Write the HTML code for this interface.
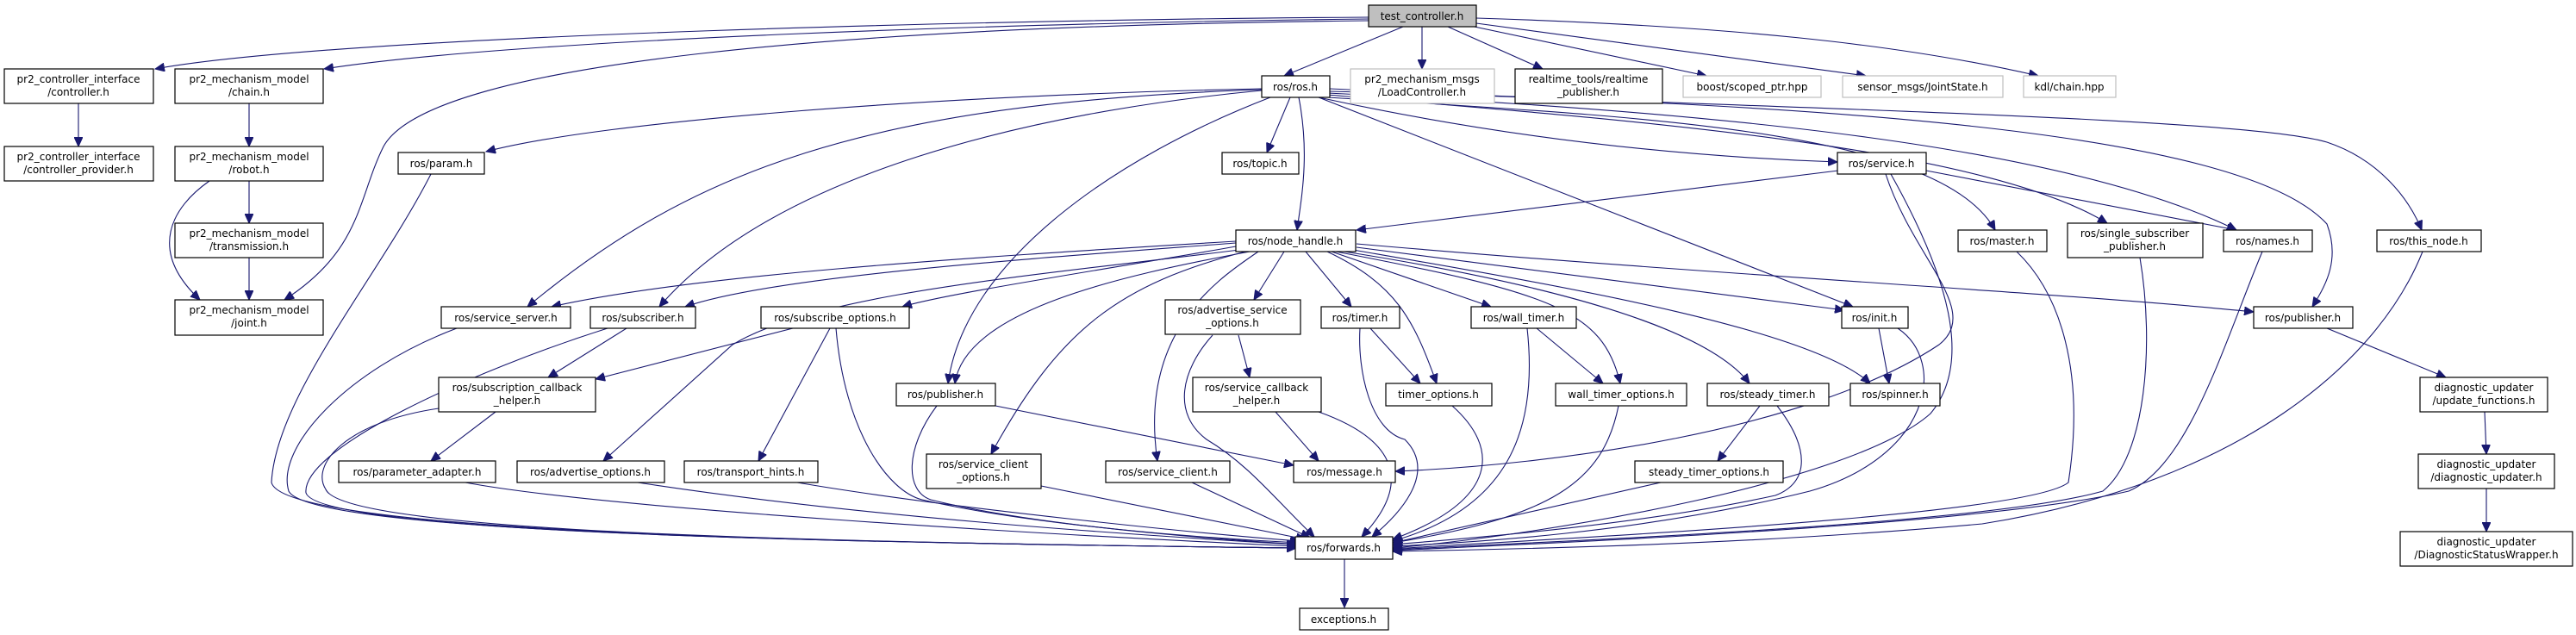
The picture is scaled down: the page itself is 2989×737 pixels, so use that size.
<!DOCTYPE html>
<html><head><meta charset="utf-8"><style>
html,body{margin:0;padding:0;background:#fff;}
svg{display:block;}
text{font-family:"DejaVu Sans","Liberation Sans",sans-serif;font-size:12px;fill:#000;text-anchor:middle;}
.n{fill:#fff;stroke:#000;stroke-width:1.2;}
.g{fill:#fff;stroke:#bfbfbf;stroke-width:1.2;}
.e path{fill:none;stroke:#191970;stroke-width:1.1;marker-end:url(#a);}
</style></head><body>
<svg width="2989" height="737" viewBox="0 0 2989 737" xmlns="http://www.w3.org/2000/svg">
<defs><marker id="a" markerUnits="userSpaceOnUse" markerWidth="12" markerHeight="10" refX="11" refY="5" orient="auto"><path d="M0,0 L11,5 L0,10 z" fill="#191970" stroke="#191970"/></marker></defs>
<g class="e">
<!-- left column -->
<path d="M91,120 L91,170"/>
<path d="M289,120 L289,170"/>
<path d="M289,210 L289,259"/>
<path d="M289,299 L289,348"/>
<path d="M243,210 C200,240 170,290 232,348"/>
<!-- test_controller -->
<path d="M1588,20 C1200,22 400,40 180,80"/>
<path d="M1588,22 C1200,26 600,45 376,80"/>
<path d="M1588,24 C1000,30 500,70 445,170 C415,230 420,290 330,348"/>
<path d="M1628,31 L1490,88"/>
<path d="M1650,31 L1650,80"/>
<path d="M1680,31 L1790,80"/>
<path d="M1706,30 L1980,88"/>
<path d="M1713,27 L2165,88"/>
<path d="M1713,21 C2000,30 2200,50 2365,88"/>
<!-- ros.h -->
<path d="M1464,103 C1100,110 700,140 564,176"/>
<path d="M1464,104 C1000,120 800,200 612,356"/>
<path d="M1464,105 C1200,130 900,200 765,356"/>
<path d="M1474,113 C1300,180 1120,300 1100,445"/>
<path d="M1497,113 L1470,177"/>
<path d="M1507,113 C1520,180 1510,230 1505,267"/>
<path d="M1530,113 C1700,150 1900,180 2132,188"/>
<path d="M1530,113 L2150,356"/>
<path d="M1540,113 C1900,135 2250,150 2315,267"/>
<path d="M1540,110 C1900,140 2300,170 2445,259"/>
<path d="M1540,108 C2000,130 2400,170 2595,267"/>
<path d="M1543,106 C2100,120 2600,150 2700,260 C2715,300 2700,330 2683,356"/>
<path d="M1543,103 C2000,125 2600,135 2700,165 C2760,185 2795,230 2810,267"/>
<!-- left group to forwards -->
<path d="M500,202 C440,320 320,460 315,560 C330,620 1000,630 1504,636"/>
<path d="M530,381 C400,430 320,520 335,570 C360,620 1000,630 1504,636"/>
<path d="M705,381 C550,430 350,520 355,572 C370,620 1000,630 1504,636"/>
<path d="M727,381 L636,438"/>
<path d="M509,474 C400,490 360,540 378,568 C400,620 1000,630 1504,636"/>
<path d="M575,478 L500,535"/>
<path d="M540,560 C700,590 1200,620 1504,634"/>
<path d="M740,560 C1000,600 1300,620 1504,632"/>
<path d="M925,560 C1100,590 1400,620 1508,628"/>
<path d="M970,381 C980,500 1030,570 1070,580 C1200,610 1400,625 1508,630"/>
<path d="M963,381 L880,535"/>
<path d="M920,381 L691,440"/>
<path d="M1087,471 C1050,520 1050,570 1080,580 C1200,610 1400,625 1508,632"/>
<path d="M1155,471 L1501,540"/>
<path d="M1208,564 L1515,626"/>
<path d="M1383,560 L1520,624"/>
<path d="M1407,389 C1370,430 1360,480 1400,510 C1450,540 1480,580 1525,623"/>
<path d="M1437,389 L1450,438"/>
<path d="M1480,478 L1530,535"/>
<path d="M1530,478 C1620,510 1640,560 1580,623"/>
<path d="M1590,381 L1648,445"/>
<path d="M1578,381 C1575,430 1590,500 1630,510 C1670,550 1620,600 1592,623"/>
<path d="M1685,471 C1740,520 1740,580 1616,626"/>
<path d="M1783,381 L1860,445"/>
<path d="M1772,381 C1785,500 1750,590 1616,628"/>
<path d="M1878,471 C1860,560 1800,600 1616,630"/>
<path d="M2042,471 L1993,535"/>
<path d="M2062,471 C2100,520 2100,560 2060,575 C1900,610 1700,625 1616,632"/>
<path d="M1927,560 L1616,630"/>
<path d="M2180,381 L2192,445"/>
<path d="M2202,381 C2260,420 2240,530 2100,570 C1900,620 1700,630 1616,634"/>
<!-- service.h -->
<path d="M2235,198 L2595,267"/>
<path d="M2133,198 L1574,267"/>
<path d="M2188,202 C2220,300 2300,360 2250,400 C2100,500 1800,540 1619,547"/>
<path d="M2194,202 C2260,320 2290,420 2240,480 C2150,560 1800,620 1616,636"/>
<!-- right group -->
<path d="M2340,292 C2390,340 2420,430 2400,560 C2350,600 1800,625 1616,637"/>
<path d="M2483,299 C2500,400 2490,530 2440,570 C2300,610 1800,628 1616,638"/>
<path d="M2625,292 C2580,400 2540,540 2470,570 C2300,610 1800,630 1616,639"/>
<path d="M2811,292 C2760,420 2600,560 2300,608 C2000,635 1700,638 1616,640"/>
<path d="M2700,381 L2838,438"/>
<path d="M2883,478 L2885,527"/>
<path d="M2885,567 L2885,617"/>
<path d="M1560,649 L1560,705"/>
<!-- node_handle -->
<path d="M1434,280 C1100,300 800,320 640,356"/>
<path d="M1434,282 C1200,300 900,320 795,356"/>
<path d="M1434,286 C1300,310 1100,340 1047,356"/>
<path d="M1450,292 C1300,320 1120,360 1108,445"/>
<path d="M1438,290 C1200,320 950,340 850,400 L700,535"/>
<path d="M1445,292 C1300,330 1230,380 1150,527"/>
<path d="M1460,292 C1420,320 1320,380 1343,535"/>
<path d="M1490,292 L1455,348"/>
<path d="M1515,292 L1568,356"/>
<path d="M1540,292 C1620,330 1640,370 1667,445"/>
<path d="M1545,292 L1730,356"/>
<path d="M1550,292 C1800,340 1860,360 1880,445"/>
<path d="M1560,292 C1800,330 1980,380 2030,445"/>
<path d="M1570,290 C1800,330 2100,380 2170,445"/>
<path d="M1574,287 L2140,360"/>
<path d="M1574,283 C2000,320 2400,340 2615,362"/>
</g>
<g>
<rect class="n" x="1588" y="6" width="125" height="25" style="fill:#bfbfbf"/><text x="1650" y="23">test_controller.h</text>
<rect class="n" x="5" y="80" width="173" height="40"/><text x="91" y="96">pr2_controller_interface</text><text x="91" y="111">/controller.h</text>
<rect class="n" x="5" y="170" width="173" height="40"/><text x="91" y="186">pr2_controller_interface</text><text x="91" y="201">/controller_provider.h</text>
<rect class="n" x="203" y="80" width="172" height="40"/><text x="289" y="96">pr2_mechanism_model</text><text x="289" y="111">/chain.h</text>
<rect class="n" x="203" y="170" width="172" height="40"/><text x="289" y="186">pr2_mechanism_model</text><text x="289" y="201">/robot.h</text>
<rect class="n" x="203" y="259" width="172" height="40"/><text x="289" y="275">pr2_mechanism_model</text><text x="289" y="290">/transmission.h</text>
<rect class="n" x="203" y="348" width="172" height="41"/><text x="289" y="364">pr2_mechanism_model</text><text x="289" y="379">/joint.h</text>
<rect class="n" x="1464" y="88" width="79" height="25"/><text x="1503" y="105">ros/ros.h</text>
<rect class="g" x="1567" y="80" width="167" height="40"/><text x="1650" y="96">pr2_mechanism_msgs</text><text x="1650" y="111">/LoadController.h</text>
<rect class="n" x="1758" y="80" width="171" height="40"/><text x="1843" y="96">realtime_tools/realtime</text><text x="1843" y="111">_publisher.h</text>
<rect class="g" x="1953" y="88" width="160" height="25"/><text x="2033" y="105">boost/scoped_ptr.hpp</text>
<rect class="g" x="2138" y="88" width="186" height="25"/><text x="2231" y="105">sensor_msgs/JointState.h</text>
<rect class="g" x="2348" y="88" width="107" height="25"/><text x="2401" y="105">kdl/chain.hpp</text>
<rect class="n" x="462" y="177" width="100" height="25"/><text x="512" y="194">ros/param.h</text>
<rect class="n" x="1418" y="177" width="89" height="25"/><text x="1462" y="194">ros/topic.h</text>
<rect class="n" x="2132" y="177" width="103" height="25"/><text x="2183" y="194">ros/service.h</text>
<rect class="n" x="1434" y="267" width="139" height="25"/><text x="1503" y="284">ros/node_handle.h</text>
<rect class="n" x="2272" y="267" width="103" height="25"/><text x="2323" y="284">ros/master.h</text>
<rect class="n" x="2399" y="259" width="157" height="40"/><text x="2477" y="275">ros/single_subscriber</text><text x="2477" y="290">_publisher.h</text>
<rect class="n" x="2580" y="267" width="103" height="25"/><text x="2631" y="284">ros/names.h</text>
<rect class="n" x="2758" y="267" width="121" height="25"/><text x="2818" y="284">ros/this_node.h</text>
<rect class="n" x="512" y="356" width="150" height="25"/><text x="587" y="373">ros/service_server.h</text>
<rect class="n" x="685" y="356" width="122" height="25"/><text x="746" y="373">ros/subscriber.h</text>
<rect class="n" x="883" y="356" width="172" height="25"/><text x="969" y="373">ros/subscribe_options.h</text>
<rect class="n" x="1352" y="348" width="157" height="40"/><text x="1430" y="364">ros/advertise_service</text><text x="1430" y="379">_options.h</text>
<rect class="n" x="1533" y="356" width="91" height="25"/><text x="1578" y="373">ros/timer.h</text>
<rect class="n" x="1707" y="356" width="122" height="25"/><text x="1768" y="373">ros/wall_timer.h</text>
<rect class="n" x="2137" y="356" width="77" height="25"/><text x="2175" y="373">ros/init.h</text>
<rect class="n" x="2615" y="356" width="115" height="25"/><text x="2672" y="373">ros/publisher.h</text>
<rect class="n" x="509" y="438" width="182" height="40"/><text x="600" y="454">ros/subscription_callback</text><text x="600" y="469">_helper.h</text>
<rect class="n" x="1040" y="445" width="115" height="26"/><text x="1097" y="462">ros/publisher.h</text>
<rect class="n" x="1384" y="438" width="149" height="40"/><text x="1458" y="454">ros/service_callback</text><text x="1458" y="469">_helper.h</text>
<rect class="n" x="1608" y="445" width="123" height="26"/><text x="1669" y="462">timer_options.h</text>
<rect class="n" x="1805" y="445" width="152" height="26"/><text x="1881" y="462">wall_timer_options.h</text>
<rect class="n" x="1981" y="445" width="141" height="26"/><text x="2051" y="462">ros/steady_timer.h</text>
<rect class="n" x="2147" y="445" width="104" height="26"/><text x="2199" y="462">ros/spinner.h</text>
<rect class="n" x="2808" y="438" width="148" height="40"/><text x="2882" y="454">diagnostic_updater</text><text x="2882" y="469">/update_functions.h</text>
<rect class="n" x="393" y="535" width="182" height="25"/><text x="484" y="552">ros/parameter_adapter.h</text>
<rect class="n" x="600" y="535" width="171" height="25"/><text x="685" y="552">ros/advertise_options.h</text>
<rect class="n" x="794" y="535" width="155" height="25"/><text x="871" y="552">ros/transport_hints.h</text>
<rect class="n" x="1075" y="527" width="133" height="40"/><text x="1141" y="543">ros/service_client</text><text x="1141" y="558">_options.h</text>
<rect class="n" x="1283" y="535" width="144" height="25"/><text x="1355" y="552">ros/service_client.h</text>
<rect class="n" x="1501" y="535" width="118" height="25"/><text x="1560" y="552">ros/message.h</text>
<rect class="n" x="1897" y="535" width="172" height="25"/><text x="1983" y="552">steady_timer_options.h</text>
<rect class="n" x="2806" y="527" width="158" height="40"/><text x="2885" y="543">diagnostic_updater</text><text x="2885" y="558">/diagnostic_updater.h</text>
<rect class="n" x="1503" y="623" width="113" height="26"/><text x="1559" y="640">ros/forwards.h</text>
<rect class="n" x="2785" y="617" width="200" height="40"/><text x="2885" y="633">diagnostic_updater</text><text x="2885" y="648">/DiagnosticStatusWrapper.h</text>
<rect class="n" x="1508" y="706" width="103" height="25"/><text x="1559" y="723">exceptions.h</text>
</g>
</svg>
</body></html>
